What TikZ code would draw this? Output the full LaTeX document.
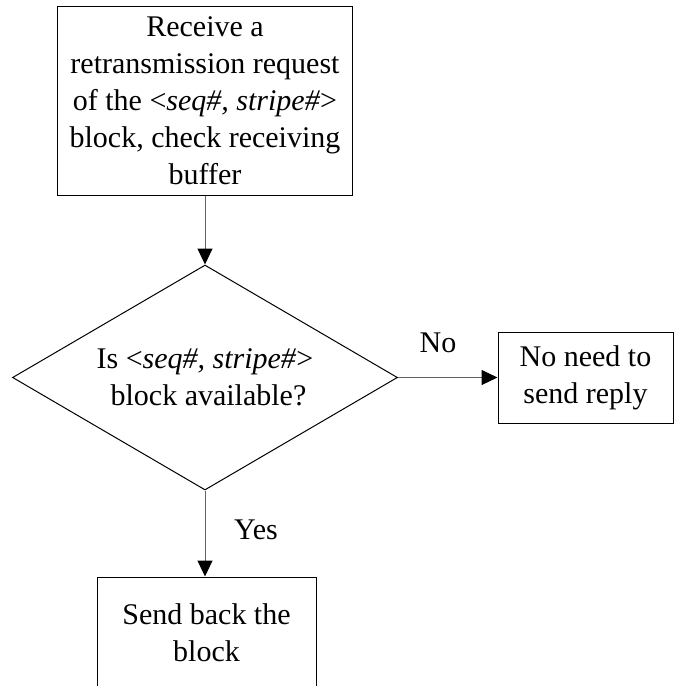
\documentclass[tikz,border=0pt]{standalone}
\usepackage{fontspec}
\setmainfont{Liberation Serif}
\usetikzlibrary{arrows.meta,shapes.geometric}

\tikzset{
  boxnode/.style={draw=black, line width=1pt, rectangle, inner sep=0pt,
    align=center, font=\fontsize{30}{37}\selectfont},
  decision/.style={draw=black, line width=1pt, diamond, inner sep=0pt,
    aspect=1.71, align=center, font=\fontsize{30}{37}\selectfont},
  flow/.style={draw=black!62, line width=1pt,
    -{Triangle[length=16pt,width=15pt,color=black,fill=black]}},
  lbl/.style={inner sep=0pt, font=\fontsize{30}{37}\selectfont}
}

\newcommand{\blockid}{<\textit{seq\#, stripe\#}>}

\begin{document}
\begin{tikzpicture}[x=1pt, y=-1pt]
  \useasboundingbox (0,0) rectangle (674,686);
  \clip (0,0) rectangle (674,686);
  \fill[white] (0,0) rectangle (674,686);

  % request box
  \node[boxnode, minimum width=295pt, minimum height=189pt] (req) at (205,100.5)
    {Receive a\\retransmission request\\of the \blockid\\block, check receiving\\buffer};

  % availability test
  \node[decision, minimum width=385pt, minimum height=225pt] (avail) at (205,377.5)
    {Is \blockid\\\hspace*{7pt}block available?};

  % outcome boxes
  \node[boxnode, minimum width=175pt, minimum height=91pt] (noreply) at (585.5,377.5)
    {No need to\\send reply};
  \node[boxnode, minimum width=219pt, minimum height=112pt] (sendback) at (206.5,633)
    {Send back the\\block};

  % connectors
  \draw[flow] (req.south) -- (avail.north);
  \draw[flow] (avail.east) -- (noreply.west);
  \draw[flow] (avail.south) -- (avail.south |- sendback.north);

  % branch labels
  \node[lbl] (nolbl) at (438,343) {No};
  \node[lbl] (yeslbl) at (256,530) {Yes};
\end{tikzpicture}
\end{document}
